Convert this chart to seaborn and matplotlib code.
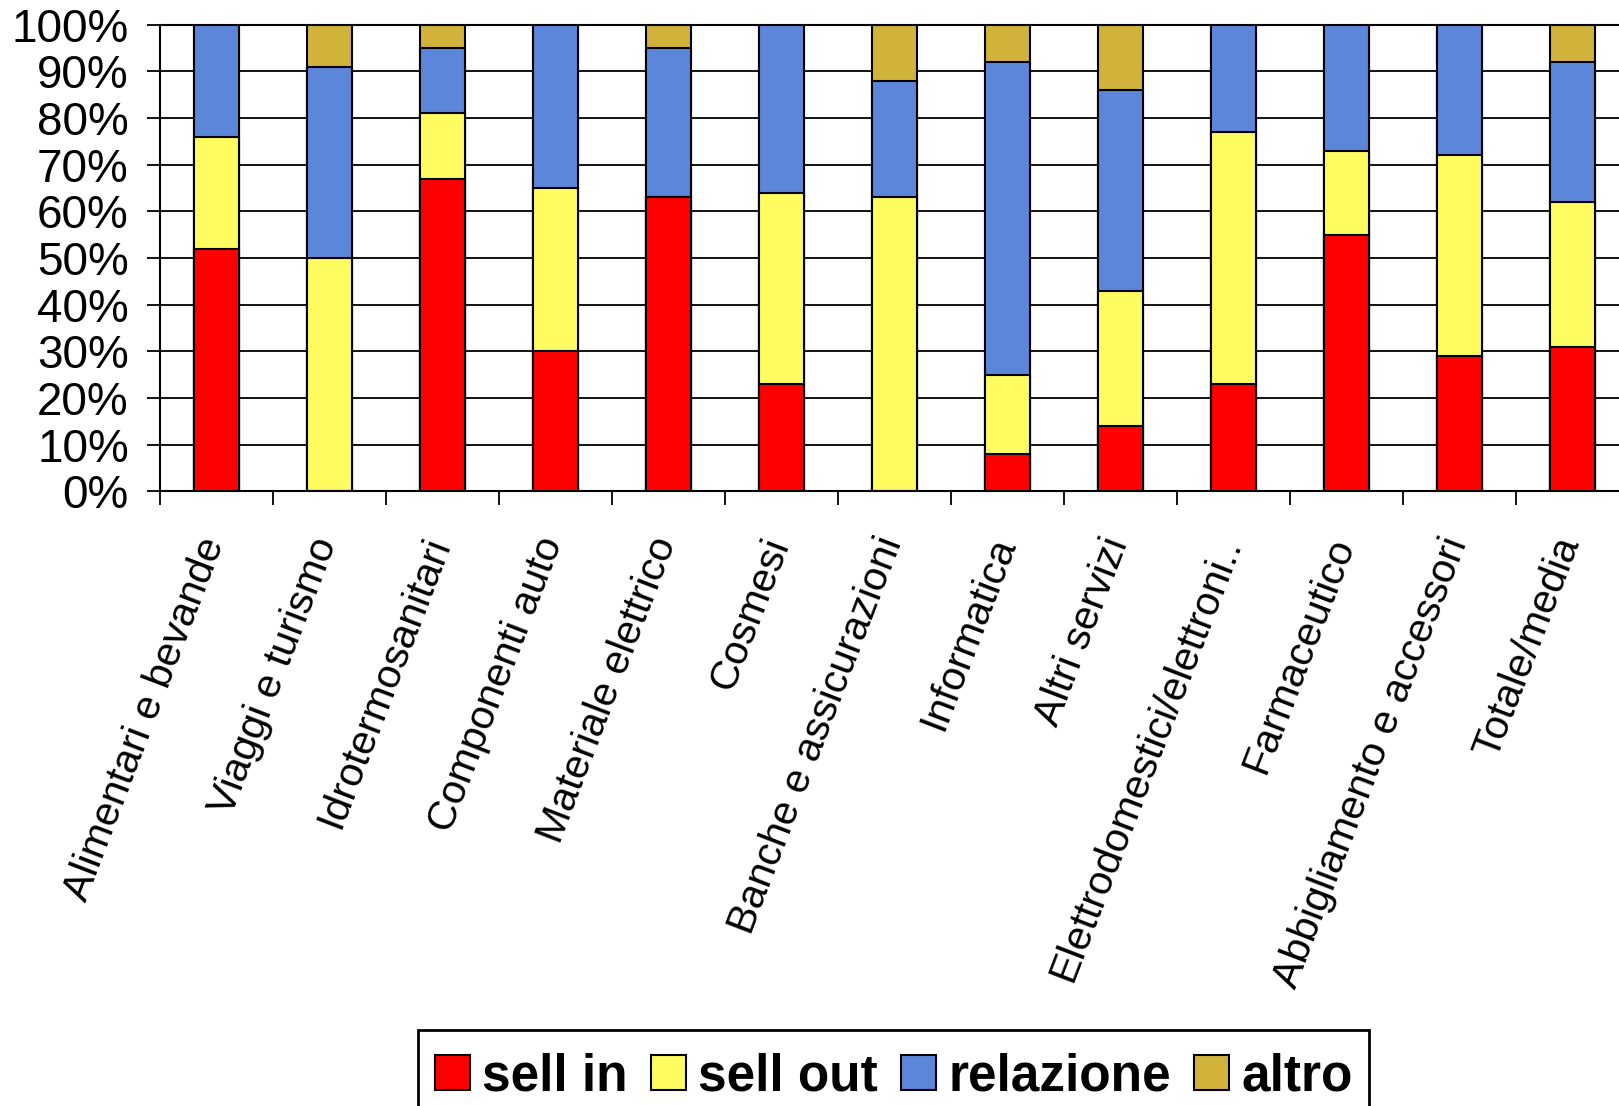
import matplotlib
matplotlib.use("Agg")
import matplotlib.pyplot as plt
from matplotlib.transforms import ScaledTranslation
from matplotlib.patches import Patch, Rectangle
import numpy as np
import pandas as pd
import seaborn as sns

# Sectors and share of each promotion type (percent of total)
categories = [
    "Alimentari e bevande", "Viaggi e turismo", "Idrotermosanitari",
    "Componenti auto", "Materiale elettrico", "Cosmesi",
    "Banche e assicurazioni", "Informatica", "Altri servizi",
    "Elettrodomestici/elettroni..", "Farmaceutico",
    "Abbigliamento e accessori", "Totale/media",
]
sell_in = [52, 0, 67, 30, 63, 23, 0, 8, 14, 23, 55, 29, 31]
sell_out = [24, 50, 14, 35, 0, 41, 63, 17, 29, 54, 18, 43, 31]
relazione = [24, 41, 14, 35, 32, 36, 25, 67, 43, 23, 27, 28, 30]
altro = [0, 9, 5, 0, 5, 0, 12, 8, 14, 0, 0, 0, 8]

series_names = ["sell in", "sell out", "relazione", "altro"]
series_colors = ["#FF0000", "#FFFC62", "#5C86D9", "#D1B23A"]
y_ticks = [0, 10, 20, 30, 40, 50, 60, 70, 80, 90, 100]
y_tick_labels = ["0%", "10%", "20%", "30%", "40%", "50%", "60%", "70%",
                 "80%", "90%", "100%"]

sns.set_style("white")
plt.rcParams["font.family"] = ["Liberation Sans", "DejaVu Sans"]
plt.rcParams["text.color"] = "black"
plt.rcParams["xtick.color"] = "black"
plt.rcParams["ytick.color"] = "black"

W, H = 1619, 1106
fig = plt.figure(figsize=(W / 100, H / 100), dpi=100)
ax = fig.add_axes([160 / W, 1 - 491.4 / H, 1469 / W, 466.6 / H])

# Stacked bars: draw cumulative totals from the top segment down
stack = np.array([sell_in, sell_out, relazione, altro], dtype=float)
cum = np.cumsum(stack, axis=0)
df = pd.DataFrame({"settore": categories})
for i in range(3, -1, -1):
    df["val"] = cum[i]
    sns.barplot(data=df, x="settore", y="val", color=series_colors[i],
                width=0.4, edgecolor="black", linewidth=1.5,
                errorbar=None, saturation=1, ax=ax, zorder=3)

ax.set_xlim(-0.5, 12.5)
ax.set_ylim(0, 100)
ax.set_xlabel("")
ax.set_ylabel("")

# Horizontal gridlines
ax.set_yticks(y_ticks, labels=y_tick_labels)
ax.yaxis.grid(True, color="black", linewidth=1.3)
ax.set_axisbelow(True)
ax.tick_params(axis="y", direction="out", length=9.5, width=1.3,
               color="black", labelcolor="black", labelsize=33, pad=13,
               left=True)

# Category labels at bar centres, tick marks on category boundaries
ax.set_xticks(range(len(categories)))
ax.set_xticklabels(categories, rotation=69, ha="right", va="center",
                   rotation_mode="anchor", fontsize=29.5, color="black")
ax.tick_params(axis="x", which="major", length=0, pad=34)
ax.set_xticks(np.arange(-0.5, len(categories), 1.0), minor=True)
ax.tick_params(axis="x", which="minor", direction="out", length=10,
               width=1.3, color="black", bottom=True)
shift = ScaledTranslation(-2 / 72, 0, fig.dpi_scale_trans)
for lab in ax.get_xticklabels():
    lab.set_transform(lab.get_transform() + shift)

for side in ["left", "bottom", "top"]:
    ax.spines[side].set_visible(True)
    ax.spines[side].set_color("black")
    ax.spines[side].set_linewidth(1.5)
ax.spines["right"].set_visible(False)

# Legend entries in one row, with a separate box around them
handles = [Patch(facecolor=c, edgecolor="black", linewidth=1.5)
           for c in series_colors]
leg = fig.legend(handles, series_names, loc="center left",
                 bbox_to_anchor=(434.7 / W, 1 - 1077 / H),
                 bbox_transform=fig.transFigure, ncol=4,
                 prop={"weight": "bold", "size": 37},
                 handlelength=0.68, handleheight=0.68, handletextpad=0.24,
                 columnspacing=0.45, borderpad=0, borderaxespad=0,
                 frameon=False)
for t in leg.get_texts():
    t.set_color("black")
box = Rectangle((418 / W, -0.05), (1369 - 418) / W, 1.05 - 1029.5 / H,
                transform=fig.transFigure, facecolor="none",
                edgecolor="black", linewidth=2, zorder=1)
fig.patches.append(box)

fig.savefig("out.png", dpi=100, facecolor="white")
